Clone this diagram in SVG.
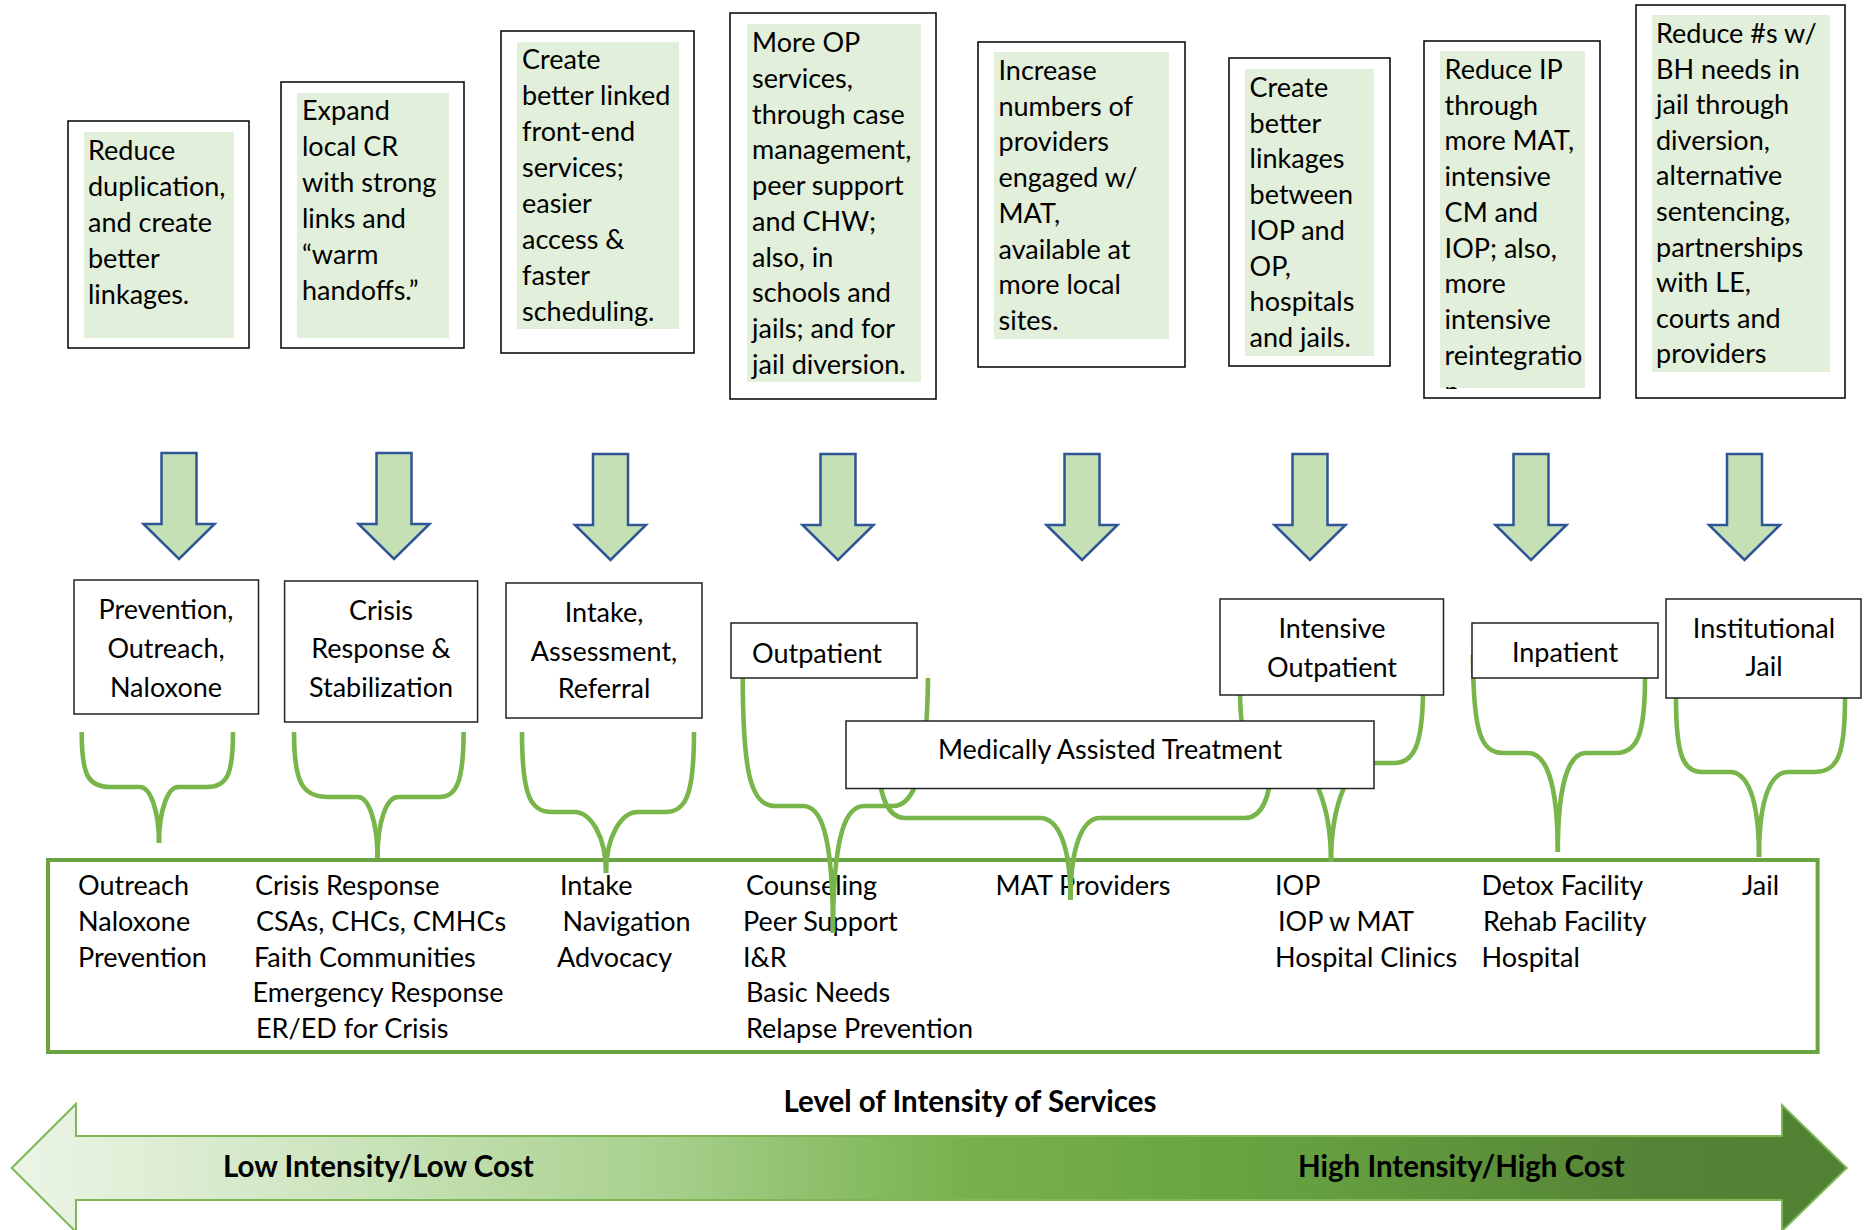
<svg xmlns="http://www.w3.org/2000/svg" width="1867" height="1230" viewBox="0 0 1867 1230">
<style>
.t{font-family:Lato,"Liberation Sans",sans-serif;font-size:27px;fill:#000}
.c{text-anchor:middle}
.b{font-weight:bold;font-size:29.5px}
.outer{fill:#fff;stroke:#000;stroke-width:1.5}
.inner{fill:#E2EFDA}
.node{fill:#fff;stroke:#222;stroke-width:1.5}
.arr{fill:#C5E0B4;stroke:#2F5597;stroke-width:2.5}
.br{fill:none;stroke:#78B54A;stroke-width:4.6}
.frame{fill:none;stroke:#6AA343;stroke-width:4}
</style>
<defs>
<path id="dn" d="M-17.5,0 H17.5 V71 H35.5 L0,106 L-35.5,71 H-17.5 Z"/>
<linearGradient id="g" x1="0" y1="0" x2="1867" y2="0" gradientUnits="userSpaceOnUse">
<stop offset="0" stop-color="#EDF5E8"/>
<stop offset="0.18" stop-color="#CDE5BE"/>
<stop offset="0.35" stop-color="#A9D18E"/>
<stop offset="0.52" stop-color="#76B14C"/>
<stop offset="0.7" stop-color="#65A040"/>
<stop offset="0.88" stop-color="#558436"/>
<stop offset="1" stop-color="#508032"/>
</linearGradient>
<clipPath id="clip7"><rect x="1440" y="51" width="145" height="338"/></clipPath>
</defs>

<g id="goal-1">
<rect class="outer" x="68" y="121" width="181" height="227"/>
<rect class="inner" x="84" y="132" width="150" height="206"/>
<text class="t"><tspan x="88" y="160">Reduce</tspan><tspan x="88" y="196">duplication,</tspan><tspan x="88" y="232">and create</tspan><tspan x="88" y="268">better</tspan><tspan x="88" y="304">linkages.</tspan></text>
</g>
<g id="goal-2">
<rect class="outer" x="281" y="82" width="183" height="266"/>
<rect class="inner" x="297" y="93" width="152" height="245"/>
<text class="t"><tspan x="302" y="120">Expand</tspan><tspan x="302" y="156">local CR</tspan><tspan x="302" y="192">with strong</tspan><tspan x="302" y="228">links and</tspan><tspan x="302" y="264">“warm</tspan><tspan x="302" y="300">handoffs.”</tspan></text>
</g>
<g id="goal-3">
<rect class="outer" x="501" y="31" width="193" height="322"/>
<rect class="inner" x="517" y="42" width="162" height="287"/>
<text class="t"><tspan x="522" y="69">Create</tspan><tspan x="522" y="105">better linked</tspan><tspan x="522" y="141">front-end</tspan><tspan x="522" y="177">services;</tspan><tspan x="522" y="213">easier</tspan><tspan x="522" y="249">access &amp;</tspan><tspan x="522" y="285">faster</tspan><tspan x="522" y="321">scheduling.</tspan></text>
</g>
<g id="goal-4">
<rect class="outer" x="730" y="13" width="206" height="386"/>
<rect class="inner" x="747" y="24" width="174" height="358"/>
<text class="t"><tspan x="752" y="52">More OP</tspan><tspan x="752" y="88">services,</tspan><tspan x="752" y="124">through case</tspan><tspan x="752" y="159">management,</tspan><tspan x="752" y="195">peer support</tspan><tspan x="752" y="231">and CHW;</tspan><tspan x="752" y="267">also, in</tspan><tspan x="752" y="302">schools and</tspan><tspan x="752" y="338">jails; and for</tspan><tspan x="752" y="374">jail diversion.</tspan></text>
</g>
<g id="goal-5">
<rect class="outer" x="978" y="42" width="207" height="325"/>
<rect class="inner" x="994" y="52" width="175" height="287"/>
<text class="t"><tspan x="998.5" y="80">Increase</tspan><tspan x="998.5" y="116">numbers of</tspan><tspan x="998.5" y="151">providers</tspan><tspan x="998.5" y="187">engaged w/</tspan><tspan x="998.5" y="223">MAT,</tspan><tspan x="998.5" y="259">available at</tspan><tspan x="998.5" y="294">more local</tspan><tspan x="998.5" y="330">sites.</tspan></text>
</g>
<g id="goal-6">
<rect class="outer" x="1229" y="58" width="161" height="308"/>
<rect class="inner" x="1245" y="69" width="129" height="287"/>
<text class="t"><tspan x="1249.6" y="97">Create</tspan><tspan x="1249.6" y="133">better</tspan><tspan x="1249.6" y="168">linkages</tspan><tspan x="1249.6" y="204">between</tspan><tspan x="1249.6" y="240">IOP and</tspan><tspan x="1249.6" y="276">OP,</tspan><tspan x="1249.6" y="311">hospitals</tspan><tspan x="1249.6" y="347">and jails.</tspan></text>
</g>
<g id="goal-7">
<rect class="outer" x="1424" y="41" width="176" height="357"/>
<rect class="inner" x="1440" y="51" width="145" height="337"/>
<text class="t" clip-path="url(#clip7)"><tspan x="1444.6" y="79">Reduce IP</tspan><tspan x="1444.6" y="115">through</tspan><tspan x="1444.6" y="150">more MAT,</tspan><tspan x="1444.6" y="186">intensive</tspan><tspan x="1444.6" y="222">CM and</tspan><tspan x="1444.6" y="258">IOP; also,</tspan><tspan x="1444.6" y="293">more</tspan><tspan x="1444.6" y="329">intensive</tspan><tspan x="1444.6" y="365">reintegratio</tspan><tspan x="1444.6" y="401">n</tspan></text>
</g>
<g id="goal-8">
<rect class="outer" x="1636" y="5" width="209" height="393"/>
<rect class="inner" x="1652" y="15" width="178" height="357"/>
<text class="t"><tspan x="1656" y="43">Reduce #s w/</tspan><tspan x="1656" y="79">BH needs in</tspan><tspan x="1656" y="114">jail through</tspan><tspan x="1656" y="150">diversion,</tspan><tspan x="1656" y="185">alternative</tspan><tspan x="1656" y="221">sentencing,</tspan><tspan x="1656" y="257">partnerships</tspan><tspan x="1656" y="292">with LE,</tspan><tspan x="1656" y="328">courts and</tspan><tspan x="1656" y="363">providers</tspan></text>
</g>

<g id="down-arrows">
<use href="#dn" class="arr" transform="translate(179,453)"/>
<use href="#dn" class="arr" transform="translate(394,453)"/>
<use href="#dn" class="arr" transform="translate(610.5,454)"/>
<use href="#dn" class="arr" transform="translate(838,454)"/>
<use href="#dn" class="arr" transform="translate(1082,454)"/>
<use href="#dn" class="arr" transform="translate(1310,454)"/>
<use href="#dn" class="arr" transform="translate(1531,454)"/>
<use href="#dn" class="arr" transform="translate(1744.5,454)"/>
</g>

<g id="services">
<rect class="frame" x="48" y="860" width="1769.6" height="192"/>
<text class="t"><tspan x="78" y="895">Outreach</tspan><tspan x="78" y="931">Naloxone</tspan><tspan x="78" y="967">Prevention</tspan></text>
<text class="t"><tspan x="255" y="895">Crisis Response</tspan><tspan x="256" y="931">CSAs, CHCs, CMHCs</tspan><tspan x="254" y="967">Faith Communities</tspan><tspan x="252.6" y="1002">Emergency Response</tspan><tspan x="256" y="1038">ER/ED for Crisis</tspan></text>
<text class="t"><tspan x="560" y="895">Intake</tspan><tspan x="562.5" y="931">Navigation</tspan><tspan x="557" y="967">Advocacy</tspan></text>
<text class="t"><tspan x="746" y="895">Counseling</tspan><tspan x="743" y="931">Peer Support</tspan><tspan x="743" y="967">I&amp;R</tspan><tspan x="746" y="1002">Basic Needs</tspan><tspan x="746" y="1038">Relapse Prevention</tspan></text>
<text class="t"><tspan x="995.6" y="895">MAT Providers</tspan></text>
<text class="t"><tspan x="1275" y="895">IOP</tspan><tspan x="1278" y="931">IOP w MAT</tspan><tspan x="1275" y="967">Hospital Clinics</tspan></text>
<text class="t"><tspan x="1481.5" y="895">Detox Facility</tspan><tspan x="1483" y="931">Rehab Facility</tspan><tspan x="1481.5" y="967">Hospital</tspan></text>
<text class="t"><tspan x="1742" y="895">Jail</tspan></text>
</g>

<g id="connectors">
<path class="br" d="M81.7,732 C81.7,775 88,787 110,787 L140,787 C150,787 159,810 159,843"/>
<path class="br" d="M233,732 C233,775 227,787 207,787 L178,787 C168,787 159,810 159,843"/>
<path class="br" d="M294,732 C294,782 302,797 328,797 L358,797 C368,797 377.5,820 377.5,858"/>
<path class="br" d="M463.6,732 C463.6,782 456,797 440,797 L398,797 C387,797 377.5,820 377.5,858"/>
<path class="br" d="M522,732 C522,795 530,812 552,812 L574,812 C590,812 606,835 606,873"/>
<path class="br" d="M694,732 C694,795 686,812 665,812 L638,812 C622,812 606,835 606,873"/>
<path class="br" d="M742.7,678 C743,770 750,806 775,806 L803,806 C820,806 833,830 833,933"/>
<path class="br" d="M928,678 C927,770 915,806 893,806 L864,806 C847,806 833,830 833,933"/>
<path class="br" d="M877,740 C877,790 885,818 905,818 L1040,818 C1058,818 1070.5,845 1070.5,900"/>
<path class="br" d="M1273,740 C1273,790 1265,818 1245,818 L1100,818 C1083,818 1070.5,845 1070.5,900"/>
<path class="br" d="M1240,695 C1241,745 1250,763 1270,763 L1295,763 C1310,763 1331,800 1331,862"/>
<path class="br" d="M1423,695 C1422,745 1414,763 1394,763 L1366,763 C1352,763 1331,800 1331,862"/>
<path class="br" d="M1473,655 C1473,735 1482,753 1503,753 L1528,753 C1545,753 1557.8,780 1557.8,852"/>
<path class="br" d="M1645,678 C1645,735 1637,753 1616,753 L1586,753 C1570,753 1557.8,780 1557.8,852"/>
<path class="br" d="M1676,698 C1676,755 1683,772 1702,772 L1730,772 C1746,772 1759,795 1759,857"/>
<path class="br" d="M1845,698 C1845,755 1838,772 1814,772 L1788,772 C1772,772 1759,795 1759,857"/>
</g>

<g id="node-prevention">
<rect class="node" x="74" y="580" width="184.5" height="134"/>
<text class="t c"><tspan x="166" y="619">Prevention,</tspan><tspan x="166" y="658">Outreach,</tspan><tspan x="166" y="697">Naloxone</tspan></text>
</g>
<g id="node-crisis">
<rect class="node" x="284.6" y="581" width="193" height="141"/>
<text class="t c"><tspan x="381" y="620">Crisis</tspan><tspan x="381" y="658">Response &amp;</tspan><tspan x="381" y="697">Stabilization</tspan></text>
</g>
<g id="node-intake">
<rect class="node" x="506" y="583" width="196" height="135"/>
<text class="t c"><tspan x="604" y="622">Intake,</tspan><tspan x="604" y="661">Assessment,</tspan><tspan x="604" y="698">Referral</tspan></text>
</g>
<g id="node-outpatient">
<rect class="node" x="731" y="623" width="186" height="55"/>
<text class="t" x="752" y="663">Outpatient</text>
</g>
<g id="node-mat">
<rect class="node" x="846" y="721" width="528" height="67.5"/>
<text class="t c" x="1110" y="759">Medically Assisted Treatment</text>
</g>
<g id="node-iop">
<rect class="node" x="1220" y="599" width="223.5" height="96"/>
<text class="t c"><tspan x="1332" y="638">Intensive</tspan><tspan x="1332" y="677">Outpatient</tspan></text>
</g>
<g id="node-inpatient">
<rect class="node" x="1472" y="623" width="186" height="55"/>
<text class="t c" x="1565" y="662">Inpatient</text>
</g>
<g id="node-jail">
<rect class="node" x="1666" y="599" width="195" height="99"/>
<text class="t c"><tspan x="1764" y="638">Institutional</tspan><tspan x="1764" y="676">Jail</tspan></text>
</g>

<g id="intensity-scale">
<text class="t b c" x="970" y="1112">Level of Intensity of Services</text>
<polygon points="11.7,1168 76,1104 76,1136 1782,1136 1782,1105 1846.7,1168 1782,1231 1782,1200 76,1200 76,1232" fill="url(#g)" stroke="#7DB756" stroke-width="2"/>
<text class="t b" x="223" y="1177">Low Intensity/Low Cost</text>
<text class="t b" x="1298" y="1177">High Intensity/High Cost</text>
</g>
</svg>
